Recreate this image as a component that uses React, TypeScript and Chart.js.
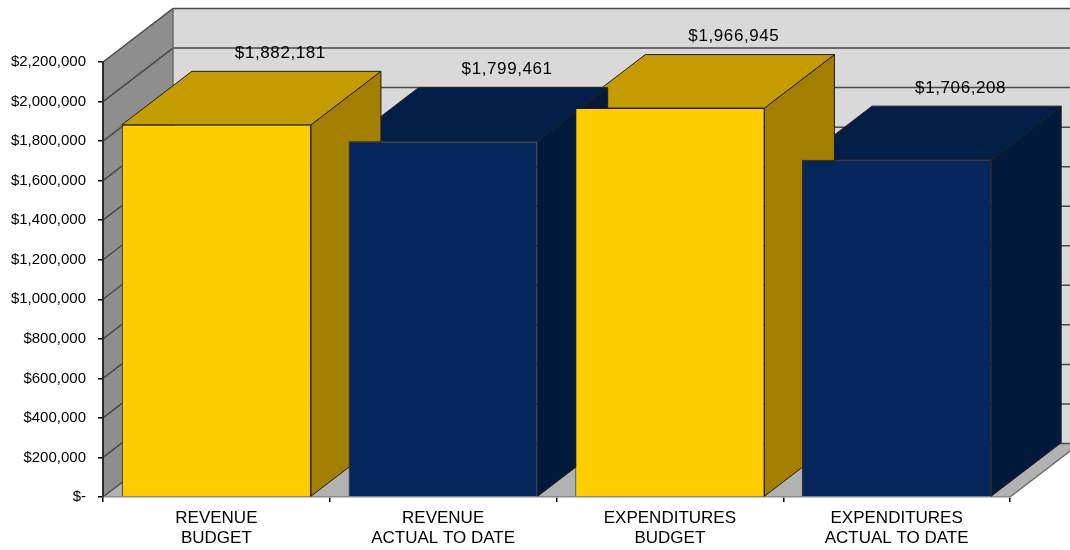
import React, { useEffect, useRef } from 'react';
import { Chart, registerables } from 'chart.js';

Chart.register(...registerables);

// ---- data ----
const categories: string[][] = [
  ['REVENUE', 'BUDGET'],
  ['REVENUE', 'ACTUAL TO DATE'],
  ['EXPENDITURES', 'BUDGET'],
  ['EXPENDITURES', 'ACTUAL TO DATE'],
];
const amounts: number[] = [1882181, 1799461, 1966945, 1706208];
const yMin = 0;
const yMax = 2200000;
const yStep = 200000;

// ---- style ----
const FRONT = ['#FFCC00', '#04265A', '#FFCC00', '#04265A'];
const TOP = ['#C49C00', '#021E46', '#C49C00', '#021E46'];
const SIDE = ['#A37F00', '#01193A', '#A37F00', '#01193A'];
const DX = 70;
const DY = 53.5;
const FONT = "'Liberation Sans', Arial, sans-serif";

const fmtMoney = (v: number) => (v === 0 ? '$-' : '$' + Math.round(v).toLocaleString('en-US'));

function poly(ctx: CanvasRenderingContext2D, pts: number[][]) {
  ctx.beginPath();
  ctx.moveTo(pts[0][0], pts[0][1]);
  for (let i = 1; i < pts.length; i++) ctx.lineTo(pts[i][0], pts[i][1]);
  ctx.closePath();
}

const wallsPlugin = {
  id: 'walls3d',
  beforeDraw(chart: any) {
    const ctx: CanvasRenderingContext2D = chart.ctx;
    const { left, right, top, bottom } = chart.chartArea;
    const ys = chart.scales.y;
    ctx.save();
    // back wall
    ctx.fillStyle = '#D9D9D9';
    ctx.fillRect(left + DX, top - DY, right - left, bottom - top);
    // left wall
    poly(ctx, [[left, top], [left + DX, top - DY], [left + DX, bottom - DY], [left, bottom]]);
    ctx.fillStyle = '#8E8E8E';
    ctx.fill();
    // floor
    poly(ctx, [[left, bottom], [right, bottom], [right + DX, bottom - DY], [left + DX, bottom - DY]]);
    ctx.fillStyle = '#B2B2B2';
    ctx.fill();
    // gridlines
    ctx.strokeStyle = '#4A4A4A';
    ctx.lineWidth = 1.5;
    ys.ticks.forEach((t: any) => {
      const py = ys.getPixelForValue(t.value);
      ctx.beginPath();
      ctx.moveTo(left, py);
      ctx.lineTo(left + DX, py - DY);
      ctx.lineTo(right + DX, py - DY);
      ctx.stroke();
    });
    // outlines
    ctx.strokeStyle = '#6A6A6A';
    ctx.beginPath();
    ctx.moveTo(left + DX, top - DY);
    ctx.lineTo(left + DX, bottom - DY);
    ctx.stroke();
    ctx.beginPath();
    ctx.moveTo(right, bottom);
    ctx.lineTo(right + DX, bottom - DY);
    ctx.stroke();
    ctx.restore();
  },
  beforeDatasetsDraw(chart: any) {
    const ctx: CanvasRenderingContext2D = chart.ctx;
    const meta = chart.getDatasetMeta(0);
    ctx.save();
    ctx.strokeStyle = '#1E1E1E';
    ctx.lineWidth = 1;
    ctx.lineJoin = 'round';
    for (let i = meta.data.length - 1; i >= 0; i--) {
      const el = meta.data[i];
      const { x, y, base, width } = el.getProps(['x', 'y', 'base', 'width'], true);
      const l = x - width / 2;
      const r = x + width / 2;
      poly(ctx, [[r, y], [r + DX, y - DY], [r + DX, base - DY], [r, base]]);
      ctx.fillStyle = SIDE[i % SIDE.length];
      ctx.fill();
      ctx.stroke();
      poly(ctx, [[l, y], [r, y], [r + DX, y - DY], [l + DX, y - DY]]);
      ctx.fillStyle = TOP[i % TOP.length];
      ctx.fill();
      ctx.stroke();
    }
    ctx.restore();
  },
  afterDatasetsDraw(chart: any) {
    const ctx: any = chart.ctx;
    const meta = chart.getDatasetMeta(0);
    ctx.save();
    ctx.fillStyle = '#000';
    ctx.font = `17px ${FONT}`;
    try { ctx.letterSpacing = '0.6px'; } catch (e) {}
    ctx.textAlign = 'center';
    ctx.textBaseline = 'middle';
    meta.data.forEach((el: any, i: number) => {
      const { x, y } = el.getProps(['x', 'y'], true);
      ctx.fillText(fmtMoney(amounts[i]), x + 64, y - DY - 18);
    });
    ctx.restore();
  },
};

export default function App() {
  const ref = useRef<HTMLCanvasElement | null>(null);
  useEffect(() => {
    if (!ref.current) return;
    const chart = new Chart(ref.current, {
      type: 'bar',
      data: {
        labels: categories,
        datasets: [
          {
            data: amounts,
            backgroundColor: FRONT,
            borderColor: '#1E1E1E',
            borderWidth: 1,
            barPercentage: 0.834,
            categoryPercentage: 1,
          },
        ],
      },
      options: {
        responsive: false,
        animation: false,
        devicePixelRatio: 1,
        layout: { padding: { top: 62, right: 60, left: 0, bottom: 0 } },
        plugins: { legend: { display: false }, tooltip: { enabled: false }, title: { display: false } },
        scales: {
          x: {
            offset: true,
            grid: { offset: true, drawOnChartArea: false, drawTicks: true, tickLength: 5, color: '#000', lineWidth: 1.5 },
            border: { display: true, color: '#8A8A8A', width: 1.5 },
            ticks: {
              color: '#000',
              font: { family: FONT, size: 17, lineHeight: 1.15 },
              padding: 7,
              maxRotation: 0,
              autoSkip: false,
            },
            afterFit: (s: any) => { s.height = 53; },
          },
          y: {
            min: yMin,
            max: yMax,
            grid: { drawOnChartArea: false, drawTicks: true, tickLength: 5, color: '#000', lineWidth: 1.5 },
            border: { display: true, color: '#2A2A2A', width: 2 },
            ticks: {
              stepSize: yStep,
              color: '#000',
              font: { family: FONT, size: 15 },
              padding: 12,
              callback: (v: any) => fmtMoney(Number(v)),
            },
            afterFit: (s: any) => { s.width = 103; },
          },
        },
      },
      plugins: [wallsPlugin],
    } as any);
    return () => chart.destroy();
  }, []);
  return (
    <div style={{ position: 'absolute', left: 0, top: 0, width: 1070, height: 550, background: '#fff' }}>
      <canvas ref={ref} width={1070} height={550} style={{ display: 'block' }} />
    </div>
  );
}
